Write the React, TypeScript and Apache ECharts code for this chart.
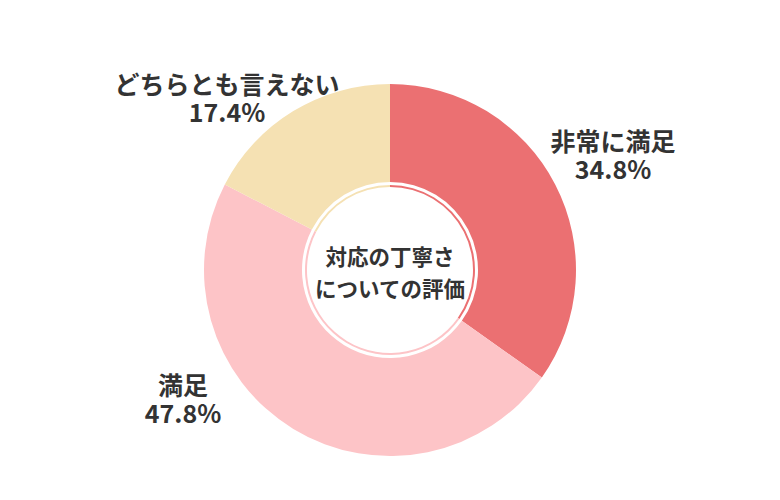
import React, { useEffect, useRef } from "react";
import * as echarts from "echarts";

const categories = ["非常に満足", "満足", "どちらとも言えない"];
const values = [34.8, 47.8, 17.4];
const colors = ["#EB7072", "#FDC4C7", "#F5E1B3"];
const centerTitle = ["対応の丁寧さ", "についての評価"];

// label anchor positions (layout only)
const labelPos = [
  [613, 154],
  [183, 398],
  [227, 97],
];

export default function App() {
  const ref = useRef<HTMLDivElement>(null);
  useEffect(() => {
    const chart = echarts.init(ref.current!, undefined, { renderer: "svg" });
    const data = categories.map((name, i) => ({
      name,
      value: values[i],
      itemStyle: { color: colors[i] },
    }));
    const font = "'Noto Sans CJK JP', 'Noto Sans', sans-serif";
    chart.setOption({
      animation: false,
      backgroundColor: "#ffffff",
      series: [
        {
          type: "pie",
          center: [390, 270],
          radius: [88, 186],
          startAngle: 90,
          clockwise: true,
          silent: true,
          data,
          label: {
            show: true,
            position: "outside",
            formatter: (p: any) => `${p.name}\n${p.value.toFixed(1)}%`,
            fontFamily: font,
            fontSize: 25,
            fontWeight: "bold",
            color: "#333333",
            lineHeight: 28,
            align: "center",
          },
          labelLine: { show: false },
          labelLayout: (p: any) => ({
            x: labelPos[p.dataIndex][0],
            y: labelPos[p.dataIndex][1],
            align: "center",
            verticalAlign: "middle",
          }),
        },
        {
          type: "pie",
          center: [390, 270],
          radius: [83, 85],
          startAngle: 90,
          clockwise: true,
          silent: true,
          data,
          label: { show: false },
          labelLine: { show: false },
        },
      ],
      graphic: [
        {
          type: "text",
          x: 390,
          y: 271,
          style: {
            text: centerTitle.join("\n"),
            fontFamily: font,
            fontSize: 21.5,
            fontWeight: "bold",
            fill: "#333333",
            lineHeight: 32,
            align: "center",
            verticalAlign: "middle",
          },
        },
      ],
    });
    return () => chart.dispose();
  }, []);
  return <div ref={ref} style={{ width: 780, height: 500, margin: -8 }} />;
}
